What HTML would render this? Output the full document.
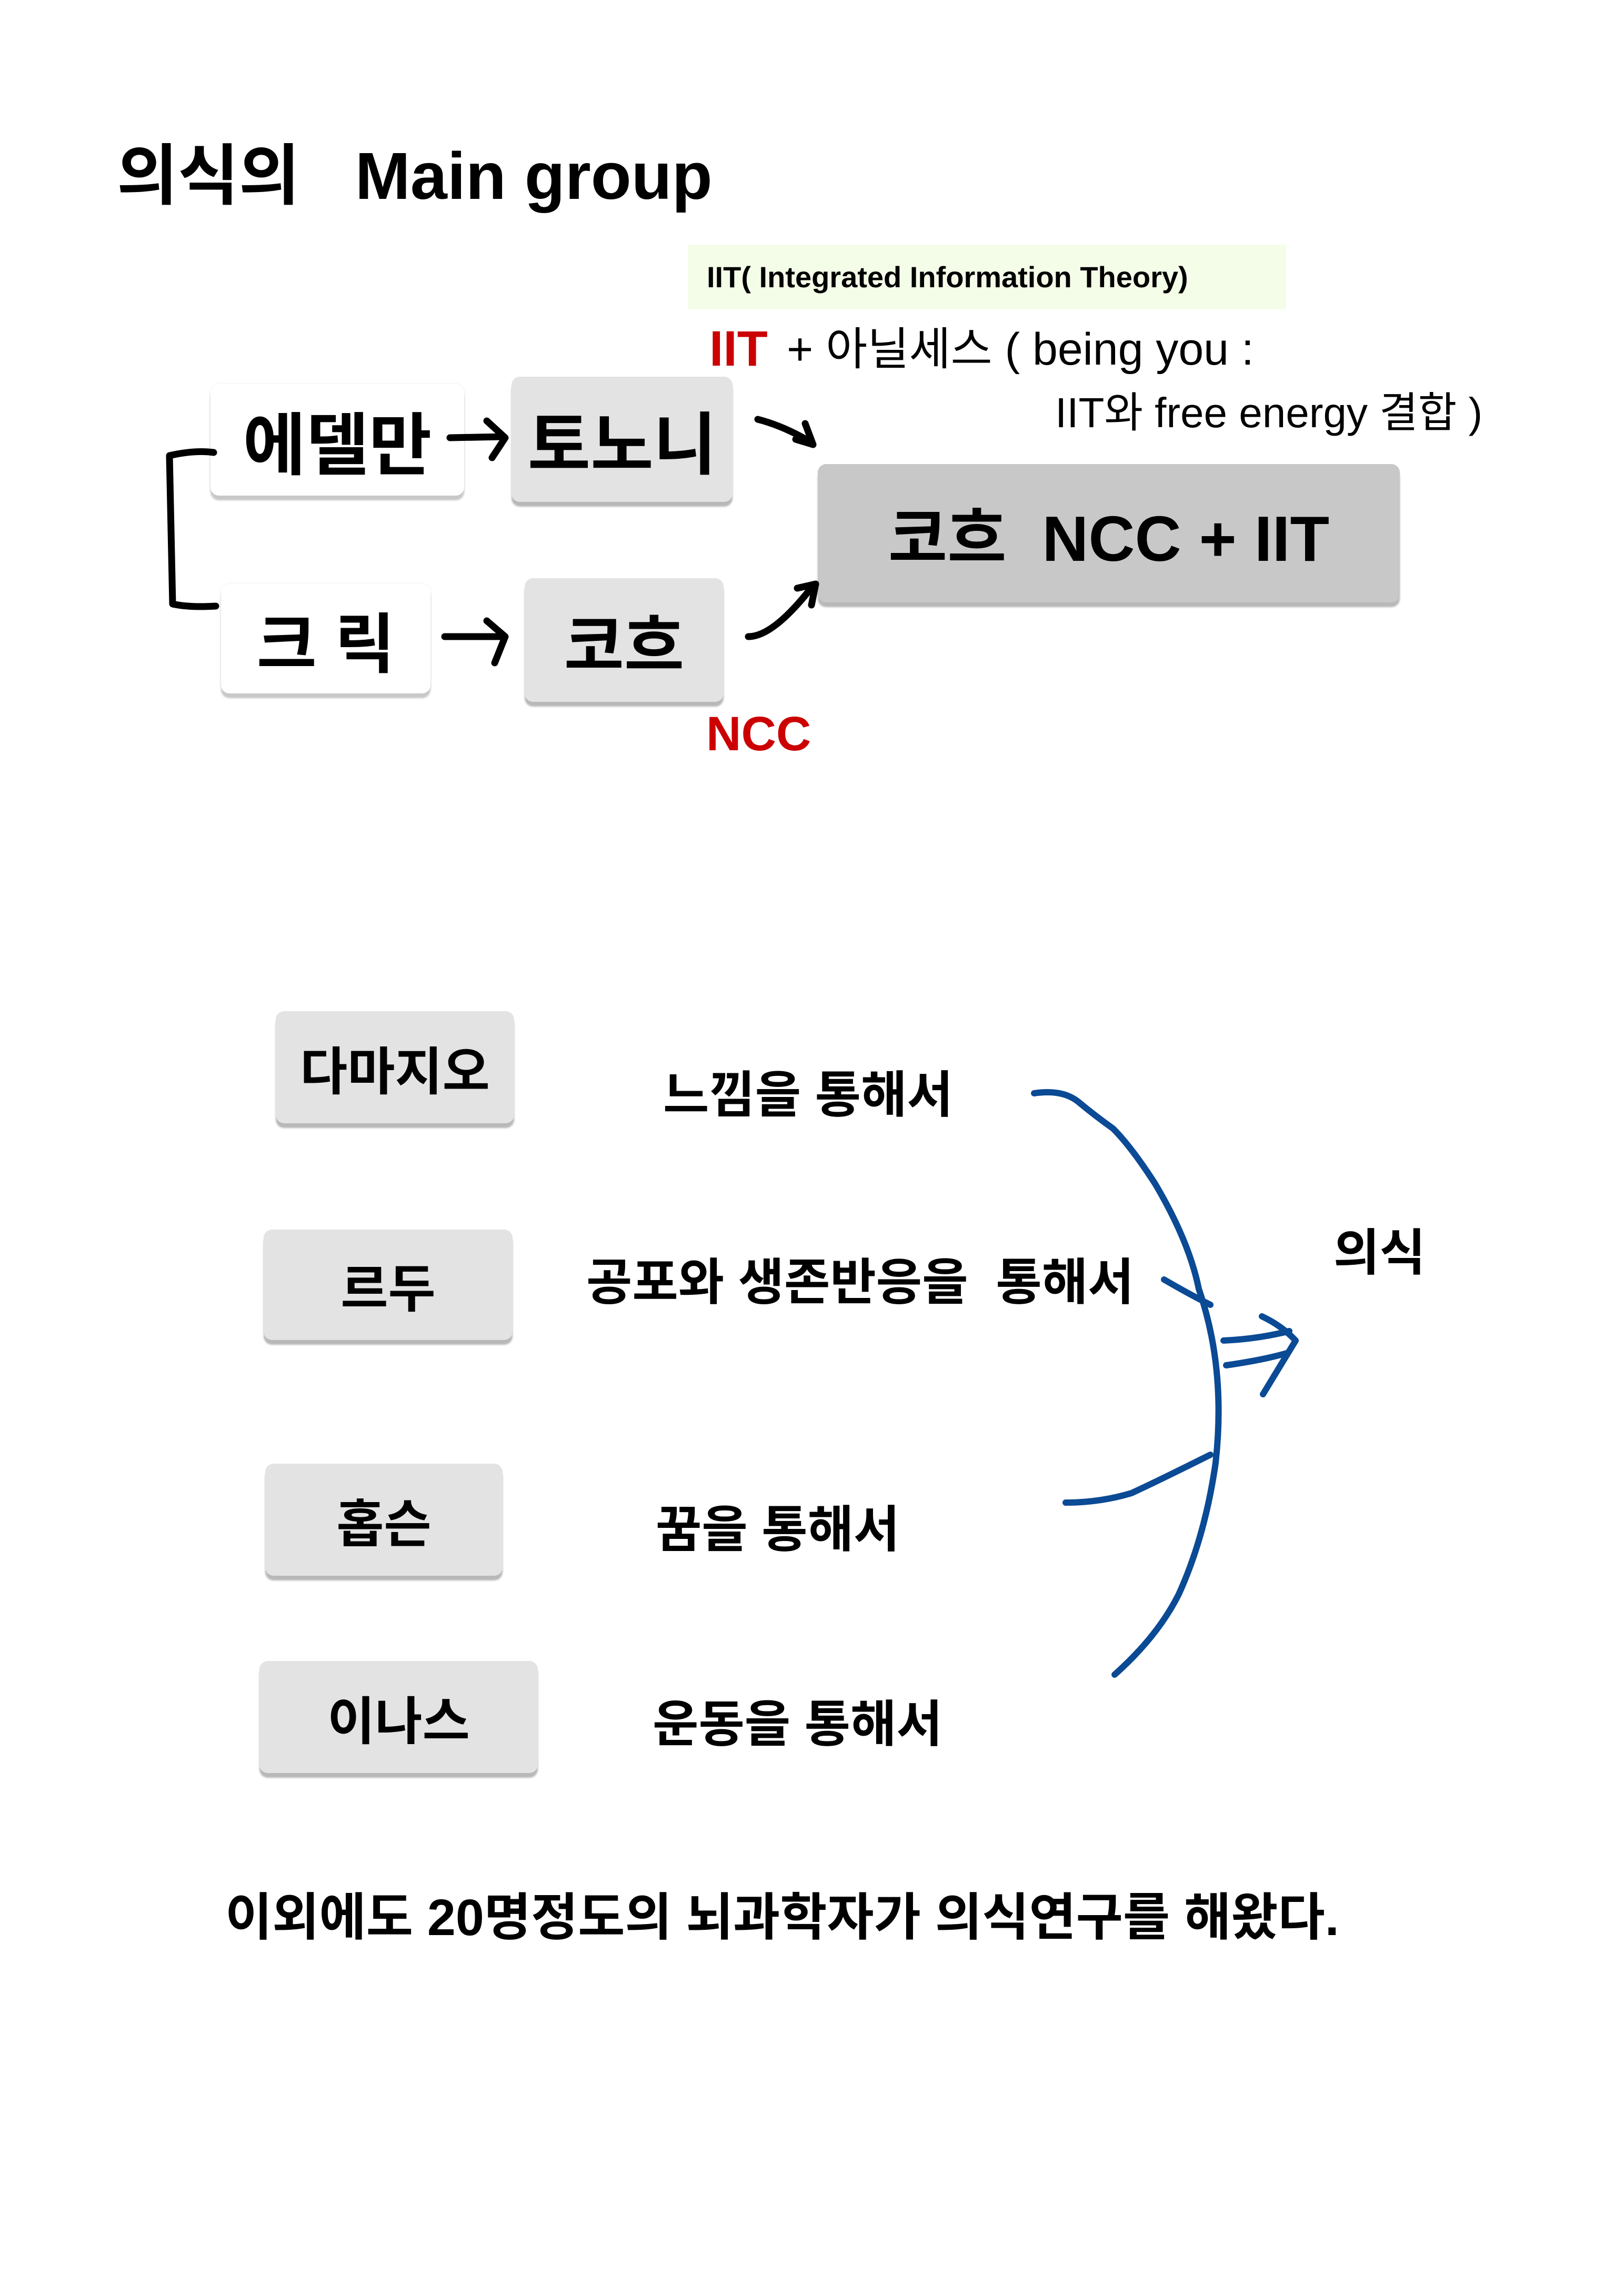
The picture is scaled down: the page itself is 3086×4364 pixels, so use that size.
<!DOCTYPE html>
<html><head><meta charset="utf-8"><style>
body{margin:0;width:3086px;height:4364px;background:#fff;position:relative;overflow:hidden;font-family:"Liberation Sans","Noto Sans CJK KR",sans-serif;}
.t{position:absolute;white-space:nowrap;color:#000;font-weight:bold;}
.b{position:absolute;border-radius:16px;display:flex;align-items:center;justify-content:center;font-weight:bold;box-shadow:0 9px 3px #b8b8b8;}
.w{background:#fff;box-shadow:0 9px 3px #c8c8c8,0 0 6px #eee;}
.g{background:#e3e3e3;}
svg{position:absolute;left:0;top:0;}
</style></head><body>
<div class="t" style="left:222px;top:260px;font-size:126px;line-height:150px;">의식의&nbsp;&nbsp;&nbsp;Main group</div>
<div style="position:absolute;left:1307px;top:465px;width:1137px;height:123px;background:#f4fde8;"></div>
<div class="t" style="left:1343px;top:492px;font-size:56px;line-height:70px;font-weight:bold;">IIT( Integrated Information Theory)</div>
<div class="t" style="left:1348px;top:608px;font-size:95px;line-height:110px;color:#cc0000;">IIT</div>
<div class="t" style="left:1495px;top:614px;font-size:86px;line-height:100px;font-weight:normal;">+ 아닐세스 ( being you :</div>
<div class="t" style="left:2005px;top:735px;font-size:80px;line-height:100px;font-weight:normal;">IIT와 free energy 결합 )</div>

<div class="b w" style="left:400px;top:730px;width:482px;height:212px;font-size:130px;">에델만</div>
<div class="b g" style="left:972px;top:716px;width:420px;height:238px;font-size:130px;">토노니</div>
<div class="b" style="left:1554px;top:882px;width:1106px;height:263px;background:#c8c8c8;font-size:122px;">코흐&nbsp;&nbsp;NCC + IIT</div>
<div class="b w" style="left:420px;top:1110px;width:398px;height:208px;font-size:124px;">크 릭</div>
<div class="b g" style="left:997px;top:1099px;width:378px;height:235px;font-size:124px;">코흐</div>
<div class="t" style="left:1342px;top:1340px;font-size:92px;line-height:110px;color:#cc0000;">NCC</div>

<div class="b g" style="left:524px;top:1922px;width:453px;height:213px;font-size:98px;">다마지오</div>
<div class="b g" style="left:501px;top:2337px;width:473px;height:210px;font-size:98px;">르두</div>
<div class="b g" style="left:504px;top:2782px;width:451px;height:213px;font-size:98px;">홉슨</div>
<div class="b g" style="left:493px;top:3157px;width:529px;height:213px;font-size:98px;">이나스</div>

<div class="t" style="left:1260px;top:2022px;font-size:95px;line-height:120px;">느낌을 통해서</div>
<div class="t" style="left:1114px;top:2378px;font-size:95px;line-height:120px;">공포와 생존반응을&nbsp; 통해서</div>
<div class="t" style="left:1246px;top:2848px;font-size:95px;line-height:120px;">꿈을 통해서</div>
<div class="t" style="left:1240px;top:3218px;font-size:95px;line-height:120px;">운동을 통해서</div>
<div class="t" style="left:2534px;top:2322px;font-size:95px;line-height:120px;">의식</div>
<div class="t" style="left:428px;top:3580px;font-size:97px;line-height:130px;">이외에도 20명정도의 뇌과학자가 의식연구를 해왔다.</div>

<svg width="3086" height="4364" fill="none" stroke-linecap="round" stroke-linejoin="round">
<g stroke="#000" stroke-width="13">
<path d="M406 860 Q370 855 322 866 L328 1148 Q360 1155 410 1152"/>
<path d="M855 832 L955 830 M925 800 L960 832 L935 870"/>
<path d="M845 1210 L955 1210 M925 1180 L960 1210 L940 1260"/>
<path d="M1440 797 Q1490 810 1540 840 M1530 805 L1545 845 L1512 835"/>
<path d="M1422 1210 Q1470 1210 1545 1113 M1515 1118 L1550 1110 L1542 1150"/>
</g>
<g stroke="#0b4a94" stroke-width="12">
<path d="M1965 2078 Q2020 2070 2050 2095 Q2080 2120 2115 2145 Q2150 2180 2195 2250 Q2260 2360 2278 2450 Q2330 2600 2310 2780 Q2290 2920 2240 3030 Q2200 3110 2118 3183"/>
<path d="M2212 2432 Q2260 2460 2300 2480"/>
<path d="M2025 2856 Q2090 2856 2150 2838 Q2200 2815 2300 2765"/>
<path d="M2325 2548 Q2390 2545 2450 2530 M2330 2595 Q2400 2585 2445 2572 M2398 2502 Q2436 2520 2462 2548 L2400 2650"/>
</g>
</svg>
</body></html>
